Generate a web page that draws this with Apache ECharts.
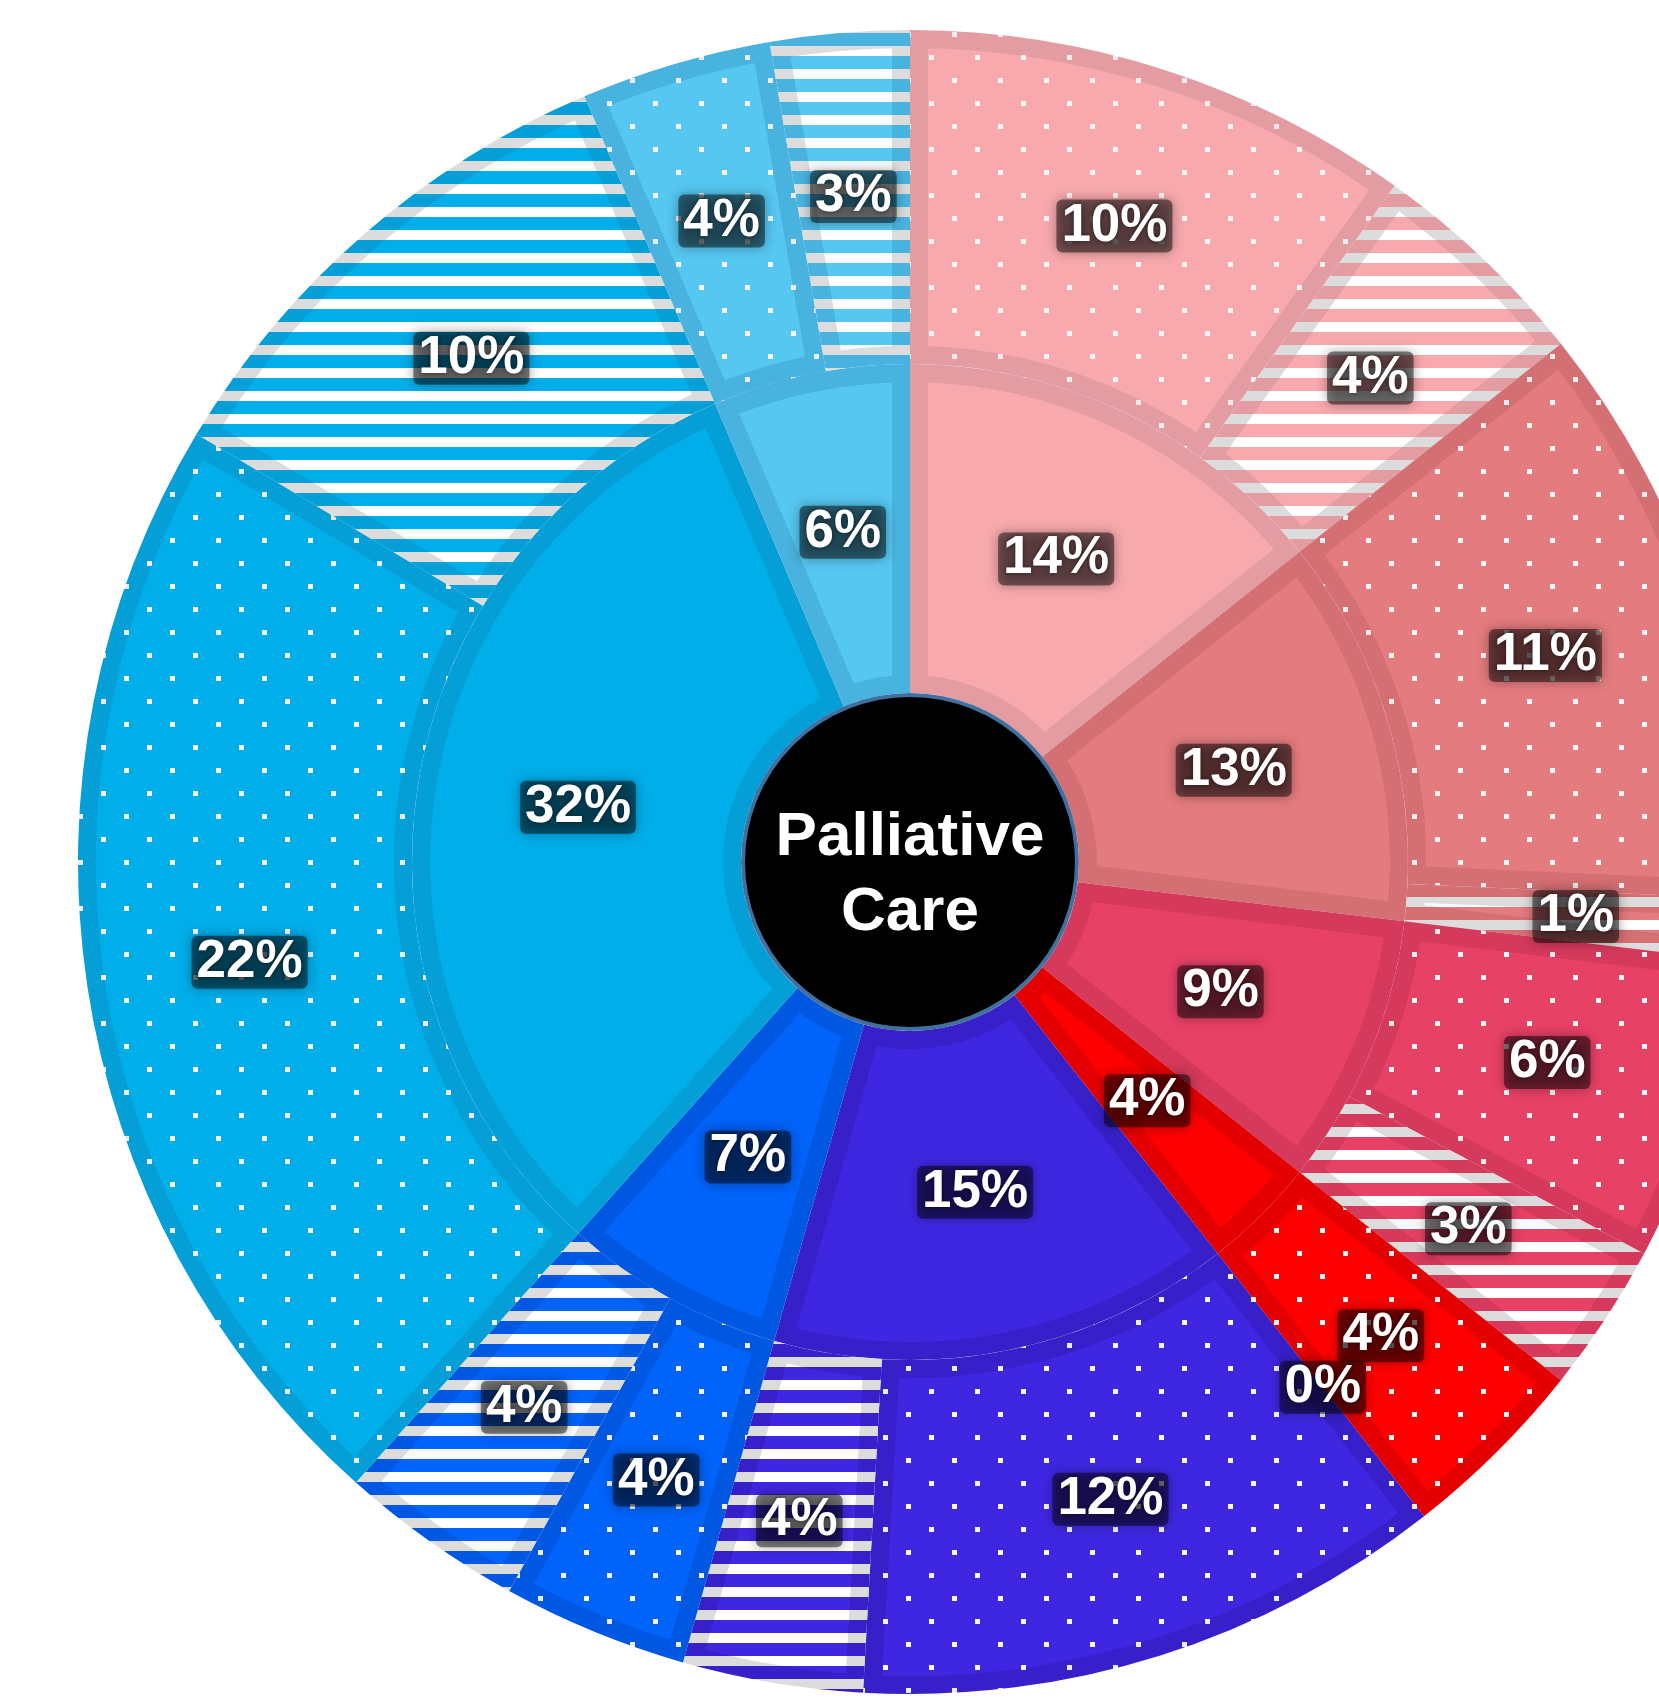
<!DOCTYPE html>
<html>
<head>
<meta charset="utf-8">
<title>Palliative Care</title>
<script src="https://cdn.jsdelivr.net/npm/echarts@6/dist/echarts.min.js"></script>
<style>
  html, body { margin: 0; padding: 0; background: #ffffff; }
  #chart { width: 1659px; height: 1706px; }
</style>
</head>
<body>
<div id="chart"></div>
<script>
// ---- data: shares in percent, clockwise from 12 o'clock ----
const groupNames    = ['Group 1', 'Group 2', 'Group 3', 'Group 4', 'Group 5', 'Group 6', 'Group 7', 'Group 8'];
const groupShares   = [14.3, 12.6, 8.8, 3.7, 15, 7.2, 32, 6.4];
const dottedShares  = [9.9, 11.4, 5.9, 3.7, 11.5, 3.6, 22, 3.7];
const stripedShares = [4.4, 1.2, 2.9, 0, 3.5, 3.6, 10, 2.7];
const centerTitle   = 'Palliative\nCare';

// ---- styling ----
const fillColors = ['#f8a9ad', '#e47b7e', '#e84166', '#ff0000', '#3f27e2', '#0063fa', '#00aeea', '#55c7f1'];
const edgeColors = ['#e39ca1', '#d46f74', '#d5395b', '#e40000', '#3720c9', '#0057e2', '#049fd6', '#48b3de'];

const CENTER = [910, 862];
const INNER_RADIUS = [169, 498];
const OUTER_RADIUS = [498, 832];
const EDGE_WIDTH = 36;          // each slice keeps a darker band of half this width
const FONT = '"Liberation Sans", Arial, Helvetica, sans-serif';

function makeCanvas(w, h) {
  const c = document.createElement('canvas');
  c.width = w; c.height = h;
  return c;
}

// staggered grid of small white squares
function dotPattern(base, dot) {
  const c = makeCanvas(46, 46);
  const g = c.getContext('2d');
  g.fillStyle = base; g.fillRect(0, 0, 46, 46);
  g.fillStyle = dot;
  g.fillRect(9, 9, 5, 5);
  g.fillRect(32, 32, 5, 5);
  return { image: c, repeat: 'repeat' };
}

// horizontal white bands
function stripePattern(base, band) {
  const c = makeCanvas(8, 23);
  const g = c.getContext('2d');
  g.fillStyle = base; g.fillRect(0, 0, 8, 23);
  g.fillStyle = band; g.fillRect(0, 0, 8, 10);
  return { image: c, repeat: 'repeat' };
}

// ---- slice lists: edge tone (full slice) and face tone (slice minus edge band) ----
const innerEdge = groupNames.map((name, i) => ({ name, value: groupShares[i], itemStyle: { color: edgeColors[i] } }));
const innerFace = groupNames.map((name, i) => ({ name, value: groupShares[i], itemStyle: { color: fillColors[i] } }));
const innerPlain = groupNames.map((name, i) => ({ name, value: groupShares[i] }));

const outerEdge = [], outerFace = [], outerPlain = [];
groupNames.forEach((name, i) => {
  outerEdge.push({ name: name + ' (dotted)', value: dottedShares[i], itemStyle: { color: dotPattern(edgeColors[i], '#ececec') } });
  outerEdge.push({ name: name + ' (striped)', value: stripedShares[i], itemStyle: { color: stripePattern(edgeColors[i], '#dcdcdc') } });
  outerFace.push({ name: name + ' (dotted)', value: dottedShares[i], itemStyle: { color: dotPattern(fillColors[i], '#f6f6f6') } });
  outerFace.push({ name: name + ' (striped)', value: stripedShares[i], itemStyle: { color: stripePattern(fillColors[i], '#ffffff') } });
  outerPlain.push({ name: name + ' (dotted)', value: dottedShares[i] });
  outerPlain.push({ name: name + ' (striped)', value: stripedShares[i] });
});

const base = {
  type: 'pie',
  center: CENTER,
  startAngle: 90,
  clockwise: true,
  silent: true,
  avoidLabelOverlap: false,
  labelLayout: { hideOverlap: false },
  labelLine: { show: false },
  label: { show: false },
  emphasis: { disabled: true }
};

function ring(extra) { return Object.assign({}, base, extra); }

// layer 0: every slice in its edge tone
const edgeLayer = [
  ring({ name: 'inner-edge', zlevel: 0, z: 1, radius: INNER_RADIUS, itemStyle: { borderWidth: 0 }, data: innerEdge }),
  ring({ name: 'outer-edge', zlevel: 0, z: 1, radius: OUTER_RADIUS, itemStyle: { borderWidth: 0 }, data: outerEdge })
];

// layer 1: face tone, then a wide stroke along every slice outline erases
// the face near the outline so the edge tone of layer 0 shows through
const cutStyle = { color: 'rgba(0,0,0,0)', borderColor: '#000000', borderWidth: EDGE_WIDTH, borderJoin: 'miter', borderMiterLimit: 4 };
const faceLayer = [
  ring({ name: 'inner-face', zlevel: 1, z: 1, radius: INNER_RADIUS, itemStyle: { borderWidth: 0 }, data: innerFace }),
  ring({ name: 'outer-face', zlevel: 1, z: 1, radius: OUTER_RADIUS, itemStyle: { borderWidth: 0 }, data: outerFace }),
  ring({ name: 'inner-cut', zlevel: 1, z: 2, radius: INNER_RADIUS, blendMode: 'destination-out', itemStyle: cutStyle, data: innerPlain }),
  ring({ name: 'outer-cut', zlevel: 1, z: 2, radius: OUTER_RADIUS, blendMode: 'destination-out', itemStyle: cutStyle, data: outerPlain })
];

// layer 2: percentage labels and the centre disc
const labelStyle = {
  show: true,
  position: 'inside',
  formatter: p => Math.round(p.value) + '%',
  color: '#ffffff',
  fontFamily: FONT,
  fontWeight: 'bold',
  fontSize: 53,
  lineHeight: 47,
  padding: [5, 5, 1, 5],
  borderRadius: 6,
  backgroundColor: 'rgba(0,0,0,0.48)',
  shadowColor: 'rgba(0,0,0,0.7)',
  shadowBlur: 12,
  textShadowColor: 'rgba(0,0,0,0.5)',
  textShadowBlur: 5,
  textBorderWidth: 0
};
const clearItem = { color: 'rgba(0,0,0,0)', borderWidth: 0 };
const labelLayer = [
  ring({ name: 'inner-labels', zlevel: 2, z: 1, radius: INNER_RADIUS, itemStyle: clearItem, label: labelStyle, data: innerPlain }),
  ring({ name: 'outer-labels', zlevel: 2, z: 1, radius: OUTER_RADIUS, itemStyle: clearItem, label: labelStyle, data: outerPlain }),
  ring({
    name: 'center-disc', zlevel: 2, z: 2, radius: [0, 167],
    itemStyle: { color: '#000000', borderColor: '#41709e', borderWidth: 4 },
    data: [{ value: 1, name: 'disc' }]
  }),
  ring({
    name: 'center-title', zlevel: 2, z: 3, center: [CENTER[0], CENTER[1] + 13], radius: [0, 1],
    itemStyle: clearItem,
    label: {
      show: true,
      position: 'center',
      formatter: '{b}',
      color: '#ffffff',
      fontFamily: FONT,
      fontWeight: 'bold',
      fontSize: 62,
      lineHeight: 75
    },
    data: [{ value: 1, name: centerTitle }]
  })
];

const chart = echarts.init(document.getElementById('chart'), null, { renderer: 'canvas' });
chart.setOption({
  animation: false,
  backgroundColor: '#ffffff',
  series: edgeLayer.concat(faceLayer, labelLayer)
});
</script>
</body>
</html>
